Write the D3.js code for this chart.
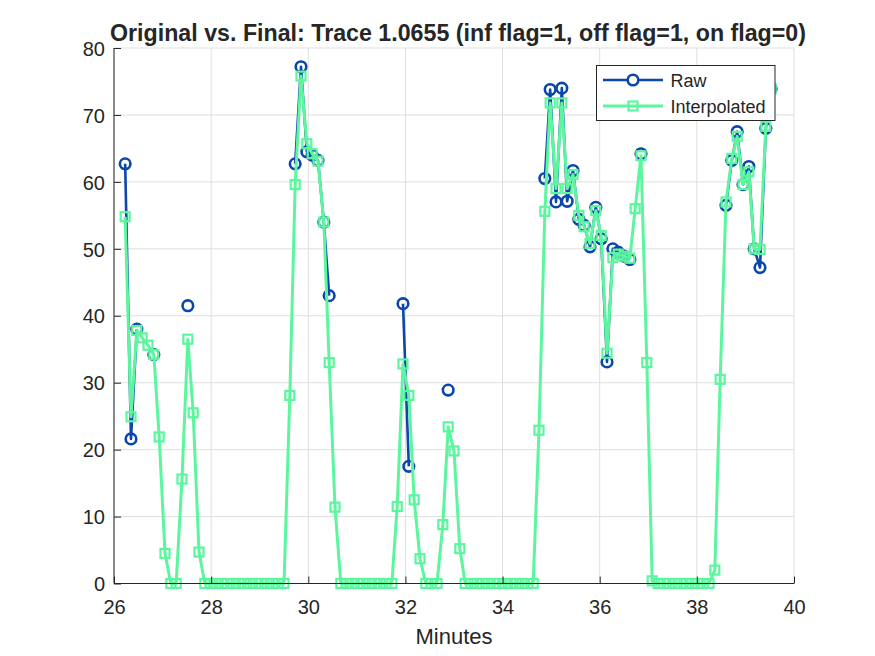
<!DOCTYPE html>
<html>
<head>
<meta charset="utf-8">
<script src="https://cdn.jsdelivr.net/npm/d3@7"></script>
<style>
  html, body { margin: 0; padding: 0; background: #fff; }
  svg { display: block; }
  text { font-family: "Liberation Sans", Arial, Helvetica, sans-serif; fill: #262626; }
</style>
</head>
<body>
<div id="chart"></div>
<script>
// ---- data ----
const minutes = [
  26.23, 26.35, 26.47, 26.58, 26.70, 26.82, 26.93, 27.05, 27.17, 27.28,
  27.40, 27.52, 27.63, 27.75, 27.87, 27.98, 28.10, 28.22, 28.33, 28.45,
  28.57, 28.68, 28.80, 28.92, 29.03, 29.15, 29.27, 29.38, 29.50, 29.62,
  29.73, 29.85, 29.97, 30.08, 30.20, 30.32, 30.43, 30.55, 30.67, 30.78,
  30.90, 31.02, 31.13, 31.25, 31.37, 31.48, 31.60, 31.72, 31.83, 31.95,
  32.07, 32.18, 32.30, 32.42, 32.53, 32.65, 32.77, 32.88, 33.00, 33.12,
  33.23, 33.35, 33.47, 33.58, 33.70, 33.82, 33.93, 34.05, 34.17, 34.28,
  34.40, 34.52, 34.63, 34.75, 34.87, 34.98, 35.10, 35.22, 35.33, 35.45,
  35.57, 35.68, 35.80, 35.92, 36.03, 36.15, 36.27, 36.38, 36.50, 36.62,
  36.73, 36.85, 36.97, 37.08, 37.20, 37.32, 37.43, 37.55, 37.67, 37.78,
  37.90, 38.02, 38.13, 38.25, 38.37, 38.48, 38.60, 38.72, 38.83, 38.95,
  39.07, 39.18, 39.30, 39.42, 39.53
];
const rawValues = [
  62.7, 21.6, 38.0, null, null, 34.2, null, null, null, null,
  null, 41.5, null, null, null, null, null, null, null, null,
  null, null, null, null, null, null, null, null, null, null,
  62.7, 77.2, 64.5, 64.0, 63.2, 54.0, 43.0, null, null, null,
  null, null, null, null, null, null, null, null, null, 41.8,
  17.5, null, null, null, null, null, null, 28.9, null, null,
  null, null, null, null, null, null, null, null, null, null,
  null, null, null, null, 60.5, 73.8, 57.0, 74.0, 57.1, 61.7,
  54.4, 53.5, 50.3, 56.2, 51.5, 33.1, 50.0, 49.5, 48.9, 48.4,
  null, 64.2, null, null, null, null, null, null, null, null,
  null, null, null, null, null, null, 56.5, 63.2, 67.5, 59.6,
  62.3, 50.0, 47.2, 68.0, 73.9
];
const interpValues = [
  54.8, 24.9, 37.8, 36.7, 35.6, 34.2, 21.9, 4.5, 0, 0,
  15.6, 36.5, 25.5, 4.7, 0, 0, 0, 0, 0, 0,
  0, 0, 0, 0, 0, 0, 0, 0, 0, 28.1,
  59.6, 75.8, 65.7, 64.2, 63.1, 54.0, 33.0, 11.4, 0, 0,
  0, 0, 0, 0, 0, 0, 0, 0, 11.5, 32.8,
  28.1, 12.5, 3.7, 0, 0, 0, 8.8, 23.4, 19.8, 5.2,
  0, 0, 0, 0, 0, 0, 0, 0, 0, 0,
  0, 0, 0, 22.9, 55.6, 71.8, 59.0, 71.8, 59.0, 61.1,
  55.0, 53.3, 50.8, 55.7, 52.0, 34.4, 48.7, 49.2, 48.9, 48.6,
  56.0, 63.9, 33.0, 0.4, 0, 0, 0, 0, 0, 0,
  0, 0, 0, 0, 2.0, 30.5, 57.0, 63.5, 66.8, 59.6,
  61.5, 50.0, 49.9, 68.3, 73.9
];
const xTicks = [26, 28, 30, 32, 34, 36, 38, 40];
const yTicks = [0, 10, 20, 30, 40, 50, 60, 70, 80];
const seriesNames = ["Raw", "Interpolated"];
const titleText = "Original vs. Final: Trace 1.0655 (inf flag=1, off flag=1, on flag=0)";
const xLabelText = "Minutes";

// ---- layout ----
const W = 875, H = 656;
const M = { left: 114, right: 81, top: 48, bottom: 72.5 };
const blue = "#0b46aa", green = "#5cf69e", axisCol = "#262626", gridCol = "#dfdfdf";
const circR = 5.3, circW = 2.6, sq = 9, sqW = 2.2;

const svg = d3.select("#chart").append("svg").attr("width", W).attr("height", H);
svg.append("rect").attr("width", W).attr("height", H).attr("fill", "#fff");

const x = d3.scaleLinear().domain([26, 40]).range([M.left, W - M.right]);
const y = d3.scaleLinear().domain([0, 80]).range([H - M.bottom, M.top]);

// grid
const grid = svg.append("g");
grid.selectAll(".gx").data(xTicks).join("line")
  .attr("x1", d => x(d)).attr("x2", d => x(d))
  .attr("y1", y(0)).attr("y2", y(80))
  .attr("stroke", gridCol).attr("stroke-width", 1);
grid.selectAll(".gy").data(yTicks).join("line")
  .attr("y1", d => y(d)).attr("y2", d => y(d))
  .attr("x1", x(26)).attr("x2", x(40))
  .attr("stroke", gridCol).attr("stroke-width", 1);

// data
const data = minutes.map((t, i) => ({ t, raw: rawValues[i], itp: interpValues[i] }));

const rawLine = d3.line().defined(d => d.raw !== null).x(d => x(d.t)).y(d => y(d.raw));
const itpLine = d3.line().defined(d => d.itp !== null).x(d => x(d.t)).y(d => y(d.itp));

const plot = svg.append("g");
plot.append("path").datum(data).attr("d", rawLine)
  .attr("fill", "none").attr("stroke", blue).attr("stroke-width", 2.6).attr("stroke-linejoin", "round");
plot.selectAll(".rc").data(data.filter(d => d.raw !== null)).join("circle")
  .attr("cx", d => x(d.t)).attr("cy", d => y(d.raw)).attr("r", circR)
  .attr("fill", "none").attr("stroke", blue).attr("stroke-width", circW);

plot.append("path").datum(data).attr("d", itpLine)
  .attr("fill", "none").attr("stroke", green).attr("stroke-width", 3).attr("stroke-linejoin", "round");
plot.selectAll(".is").data(data.filter(d => d.itp !== null)).join("rect")
  .attr("x", d => x(d.t) - sq / 2).attr("y", d => y(d.itp) - sq / 2)
  .attr("width", sq).attr("height", sq)
  .attr("fill", "none").attr("stroke", green).attr("stroke-width", sqW);

// axes (MATLAB style: ticks inside)
const xAxis = d3.axisBottom(x).tickValues(xTicks).tickSize(-7).tickPadding(0).tickFormat(d3.format("d"));
const yAxis = d3.axisLeft(y).tickValues(yTicks).tickSize(-7).tickPadding(0).tickFormat(d3.format("d"));

const gx = svg.append("g").attr("transform", `translate(0,${y(0)})`).call(xAxis);
gx.select(".domain").attr("stroke", axisCol).attr("d", `M${x(26)},0H${x(40)}`);
gx.selectAll(".tick line").attr("stroke", axisCol);
gx.selectAll(".tick text").attr("y", 30).attr("dy", null)
  .style("font-size", "20px").attr("fill", axisCol);

const gy = svg.append("g").attr("transform", `translate(${x(26)},0)`).call(yAxis);
gy.select(".domain").attr("stroke", axisCol).attr("d", `M0,${y(0)}V${y(80)}`);
gy.selectAll(".tick line").attr("stroke", axisCol);
gy.selectAll(".tick text").attr("x", -9).attr("dy", "0.36em")
  .style("font-size", "20px").attr("fill", axisCol);

// labels
svg.append("text").attr("x", (x(26) + x(40)) / 2).attr("y", 643.5)
  .attr("text-anchor", "middle").style("font-size", "22px").text(xLabelText);
svg.append("text").attr("x", 458).attr("y", 40.5)
  .attr("text-anchor", "middle").style("font-size", "24px").style("font-weight", "bold")
  .attr("textLength", 696).attr("lengthAdjust", "spacingAndGlyphs")
  .attr("fill", "#000").text(titleText);

// legend
const lg = svg.append("g");
lg.append("rect").attr("x", 596.5).attr("y", 65.5).attr("width", 178.5).attr("height", 55)
  .attr("fill", "#fff").attr("stroke", axisCol).attr("stroke-width", 1);
const legendY = [80, 106];
const legendCols = [blue, green];
seriesNames.forEach((name, i) => {
  lg.append("line").attr("x1", 603).attr("x2", 663).attr("y1", legendY[i]).attr("y2", legendY[i])
    .attr("stroke", legendCols[i]).attr("stroke-width", i === 0 ? 2.6 : 3);
  if (i === 0) {
    lg.append("circle").attr("cx", 633).attr("cy", legendY[i]).attr("r", circR)
      .attr("fill", "#fff").attr("stroke", blue).attr("stroke-width", circW);
  } else {
    lg.append("rect").attr("x", 633 - sq / 2).attr("y", legendY[i] - sq / 2).attr("width", sq).attr("height", sq)
      .attr("fill", "none").attr("stroke", green).attr("stroke-width", sqW);
  }
  lg.append("text").attr("x", 670.5).attr("y", legendY[i] + 6.5)
    .style("font-size", "18px").attr("fill", "#000").text(name);
});
</script>
</body>
</html>
